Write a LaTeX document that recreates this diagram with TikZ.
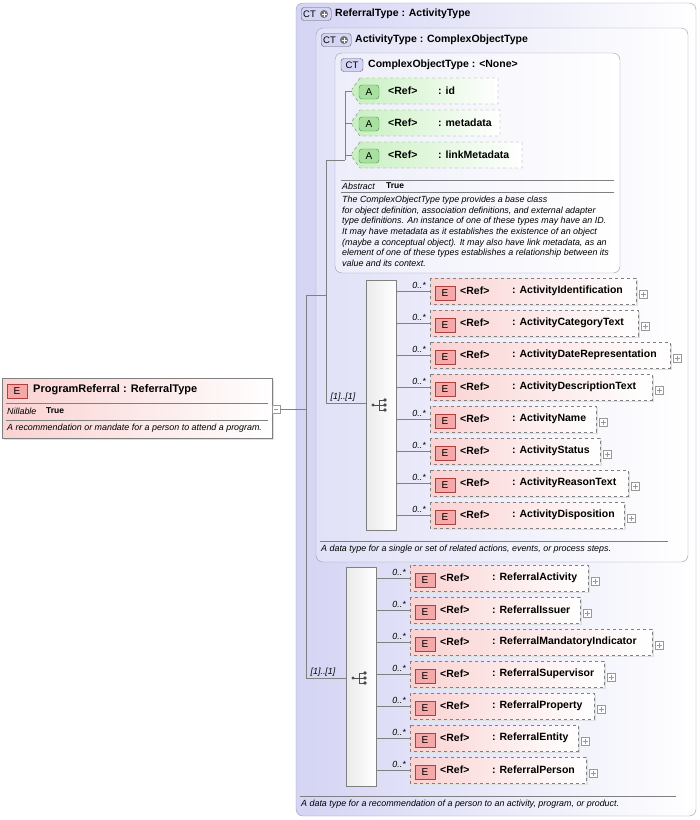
\documentclass[tikz,border=0pt]{standalone}
\usepackage{fontspec}
\setmainfont{Liberation Sans}
\begin{document}
\definecolor{lav}{HTML}{D4D4F4}
\definecolor{lavb}{HTML}{9A9AB4}
\definecolor{epink}{HTML}{FAD2D2}
\definecolor{ebad}{HTML}{F4A8A8}
\definecolor{ered}{HTML}{B04040}
\definecolor{agreen}{HTML}{C8F0C0}
\definecolor{agbad}{HTML}{A8E0A0}
\definecolor{agb}{HTML}{4A8A4A}
\definecolor{ln}{HTML}{808080}
\tikzset{
  every node/.style={font=\fontsize{10.5}{12}\selectfont\bfseries, inner sep=0pt},
  small/.style={font=\fontsize{8.9}{10.6}\selectfont\itshape},
  ctbox/.style={draw=lavb, rounded corners=7pt, left color=lav, right color=white},
  ebox/.style={draw=ln, dashed, left color=epink, right color=white},
  abox/.style={draw=ln, dashed, left color=agreen, right color=white},
  ebadge/.style={draw=ered, fill=ebad, minimum width=20pt, minimum height=14pt, font=\fontsize{10}{11}\selectfont},
  abadge/.style={draw=agb, fill=agbad, rounded corners=3pt, minimum width=20pt, minimum height=14pt, font=\fontsize{10}{11}\selectfont},
  ctbadge/.style={draw=lavb!60!black, fill=lav, rounded corners=3pt, minimum height=13pt, font=\fontsize{9.5}{10}\selectfont},
  conn/.style={draw=ln, line width=0.6pt},
  comp/.style={draw=ln, left color=black!8, right color=white},
  sep/.style={draw=ln, line width=0.6pt},
}
\newcommand\plusbox[2]{\draw[black!40, fill=white] (#1-4,#2-4) rectangle (#1+4,#2+4);
  \draw[black!40] (#1-2.5,#2) -- (#1+2.5,#2) (#1,#2-2.5) -- (#1,#2+2.5);}
% #1 name, #2 left x, #3 centre y, #4 right x, #5 label
\newcommand\elem[5]{%
  \fill[black!12] (#2+2,#3-11) rectangle (#4+2,#3+15);
  \draw[ebox] (#2,#3-13) rectangle (#4,#3+13);
  \node[ebadge] (#1b) at (#2+15,#3+2) {E};
  \node[anchor=west] (#1r) at (#2+30,#3) {<Ref>};
  \node[anchor=west] (#1) at (#2+82,#3) {: #5};
  \plusbox{#4+7}{#3+3}}
\newcommand\attr[5]{%
  \draw[abox] (#2+10,#3-13) -- (#4,#3-13) -- (#4,#3+13) -- (#2+10,#3+13) -- (#2+2,#3+2) -- (#2+2,#3-2) -- cycle;
  \node[abadge] (#1b) at (#2+19,#3+1) {A};
  \node[anchor=west] (#1r) at (#2+38,#3) {<Ref>};
  \node[anchor=west] (#1) at (#2+88,#3) {: #5};}
\newcommand\seqicon[2]{%
  \fill[black!70] (#1-8,#2) circle (1.6);
  \draw[black!70, line width=0.8pt] (#1-8,#2) -- (#1-2,#2) (#1-2,#2-5) -- (#1-2,#2+5)
    (#1-2,#2-5) -- (#1+3,#2-5) (#1-2,#2) -- (#1+3,#2) (#1-2,#2+5) -- (#1+3,#2+5);
  \foreach \d in {-5,0,5} \fill[black!70] (#1+4,#2+\d) circle (1.8);}
\newcommand\ctbadgeplus[3]{%
  \node[ctbadge, minimum width=30pt, anchor=west, inner xsep=2pt, text width=26pt, align=left] (#1) at (#2-15,#3) {CT};
  \fill[black!55] (#2+8,#3) circle (4);
  \draw[white, line width=1pt] (#2+5.5,#3) -- (#2+10.5,#3) (#2+8,#3-2.5) -- (#2+8,#3+2.5);}
\begin{tikzpicture}[x=1pt,y=-1pt]
\useasboundingbox (0,0) rectangle (700,820);
% outer type boxes
\draw[ctbox] (296,3) rectangle (696,816);
\ctbadgeplus{ctr}{316}{14}
\node[anchor=west] (rt) at (335,14) {ReferralType : ActivityType};
\draw[ctbox, left color=lav!70] (316,28) rectangle (688,562);
\ctbadgeplus{cta}{336}{40}
\node[anchor=west] (at) at (355,40) {ActivityType : ComplexObjectType};
\draw[ctbox, left color=lav!40] (335,53) rectangle (620,273);
\node[ctbadge, minimum width=22pt] (ctc) at (352,65) {CT};
\node[anchor=west] (ct) at (368,65) {ComplexObjectType : <None>};
% attributes
\attr{aid}{350}{91}{498}{id}
\attr{ameta}{350}{123}{500}{metadata}
\attr{alink}{350}{155}{522}{linkMetadata}
\draw[sep] (341,180) -- (614,180);
\node[small, anchor=west] (abs) at (342,186) {Abstract};
\node[anchor=west, font=\fontsize{8.5}{10}\selectfont\bfseries] (abst) at (386,186) {True};
\draw[sep] (341,192) -- (614,192);
\node[small, anchor=north west, align=left] (cdesc) at (342,196) {The ComplexObjectType type provides a base class\\for object definition, association definitions, and external adapter\\type definitions. An instance of one of these types may have an ID.\\It may have metadata as it establishes the existence of an object\\(maybe a conceptual object). It may also have link metadata, as an\\element of one of these types establishes a relationship between its\\value and its context.};
% program referral element
\fill[black!12] (4,380) rectangle (274,440);
\draw[draw=ln, left color=epink, right color=white] (2,378) rectangle (272,438);
\node[ebadge] (peb) at (17,391) {E};
\node[anchor=west, font=\fontsize{11}{13}\selectfont\bfseries] (pe) at (33,390) {ProgramReferral : ReferralType};
\draw[sep] (6,403) -- (268,403);
\node[small, anchor=west] (nil) at (7,411) {Nillable};
\node[anchor=west, font=\fontsize{8.5}{10}\selectfont\bfseries] (nilt) at (46,411) {True};
\draw[sep] (6,420) -- (268,420);
\node[small, anchor=west] (pdesc) at (7,428) {A recommendation or mandate for a person to attend a program.};
\draw[black!40, fill=white] (272,405) rectangle (280,413);
\draw[black!40] (274,409) -- (278,409);
% compositors
\draw[comp] (366,280) rectangle (396,530);
\seqicon{381}{405}
\draw[comp] (346,567) rectangle (376,786);
\seqicon{361}{678}
% connectors
\coordinate (j0) at (280,409);
\draw[conn] (j0) -- (306,409);
\draw[conn] (306,295) -- (306,678) -- (346,678);
\draw[conn] (306,295) -- (326,295);
\draw[conn] (326,160) -- (326,403) -- (366,403);
\draw[conn] (326,160) -- (345,160);
\draw[conn] (345,91) -- (345,160);
\foreach \y in {91,123,155} \draw[conn] (345,\y) -- (352,\y);
\node[small, anchor=south] (m1) at (343,402) {[1]..[1]};
\node[small, anchor=south] (m2) at (323,677) {[1]..[1]};
% activity elements
\foreach \y/\n/\xr/\lab in {291/ai/636/ActivityIdentification, 323/ac/638/ActivityCategoryText,
  355/ad/670/ActivityDateRepresentation, 387/adt/652/ActivityDescriptionText, 419/an/596/ActivityName,
  451/as/600/ActivityStatus, 483/ar/628/ActivityReasonText, 515/adi/624/ActivityDisposition}{
  \elem{\n}{430}{\y}{\xr}{\lab}
  \draw[conn] (396,\y) -- (430,\y);
  \node[small, anchor=south east] at (426,\y-2) {0..*};
}
\draw[sep] (320,541) -- (668,541);
\node[small, anchor=west] (adesc) at (321,549) {A data type for a single or set of related actions, events, or process steps.};
% referral elements
\foreach \y/\n/\xr/\lab in {578/ra/588/ReferralActivity, 610/ri/580/ReferralIssuer,
  642/rm/652/ReferralMandatoryIndicator, 674/rs/604/ReferralSupervisor, 706/rp/594/ReferralProperty,
  738/re/578/ReferralEntity, 770/rpe/586/ReferralPerson}{
  \elem{\n}{410}{\y}{\xr}{\lab}
  \draw[conn] (376,\y) -- (410,\y);
  \node[small, anchor=south east] at (406,\y-2) {0..*};
}
\draw[sep] (300,796) -- (676,796);
\node[small, anchor=west] (rdesc) at (301,804) {A data type for a recommendation of a person to an activity, program, or product.};
\end{tikzpicture}
\end{document}
